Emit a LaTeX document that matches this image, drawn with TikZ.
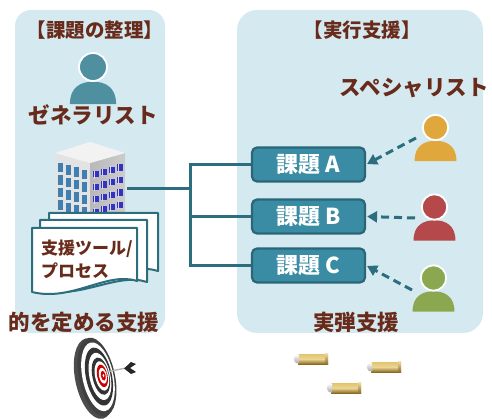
\documentclass[tikz,border=0pt]{standalone}
\usepackage{fontspec}
\newfontfamily\jp{Noto Sans CJK JP}
\usetikzlibrary{arrows.meta,calc}

\definecolor{panelblue}{HTML}{D5EAF0}
\definecolor{inkbrown}{HTML}{682A1A}
\definecolor{teal}{HTML}{2C6D7E}
\definecolor{taskfill}{HTML}{398CA3}
\definecolor{taskedge}{HTML}{2A6677}
\definecolor{genteal}{HTML}{4E8FA0}
\definecolor{spyellow}{HTML}{E0A83C}
\definecolor{spred}{HTML}{B5484A}
\definecolor{spgreen}{HTML}{8BA850}
\definecolor{brasslight}{HTML}{E2C46A}
\definecolor{brassdark}{HTML}{8C6A22}

% person icon: #1 name, #2 x, #3 y of head centre, #4 head radius, #5 colour
\newcommand\personicon[5]{%
  \begin{scope}[shift={(#2,#3)}, scale=#4]
    \fill[#5] (-1.65,2.65) .. controls (-1.65,1.45) and (-0.9,1.05) .. (0,1.05)
      .. controls (0.9,1.05) and (1.65,1.45) .. (1.65,2.65) -- cycle;
    \filldraw[fill=#5, draw=white, line width=1.8pt] (0,0) circle (1);
    \coordinate (#1) at (0,1.3);
  \end{scope}}

% one sheet of the document stack: left, top, right, right-bottom, left-bottom
\newcommand\docsheet[5]{%
  \filldraw[fill=white, draw=teal, line width=2pt, line join=round]
    (#1,#5) -- (#1,#2) -- (#3,#2) -- (#3,#4)
    .. controls ({#3-30},{#4-10}) and ({#1+40},{#5+10}) .. (#1,#5) -- cycle;}

% brass cartridge: left x, centre y
\newcommand\cartridge[2]{%
  \shade[top color=brasslight, bottom color=brassdark, middle color=brasslight!70!white]
    ({#1+6},{#2-5}) rectangle ({#1+36},{#2+5});
  \shade[top color=brasslight!60!white, bottom color=brassdark]
    ({#1+33},{#2-5.5}) rectangle ({#1+36},{#2+5.5});
  \shade[top color=white, bottom color=gray!70]
    ({#1+7},{#2-4.6}) .. controls (#1,{#2-4.6}) and (#1,{#2+4.6}) .. ({#1+7},{#2+4.6}) -- cycle;}

\begin{document}
\begin{tikzpicture}[x=1pt, y=-1pt,
  panel/.style={fill=panelblue},
  heading/.style={font=\jp\bfseries\fontsize{19.5}{22}\selectfont, text=inkbrown, inner sep=0pt},
  role/.style={font=\jp\bfseries\fontsize{21.5}{24}\selectfont, text=inkbrown, inner sep=0pt},
  doctext/.style={font=\jp\bfseries\fontsize{17}{23}\selectfont, text=inkbrown, inner sep=0pt, align=left},
  task/.style={rectangle, rounded corners=5pt, fill=taskfill, draw=taskedge, line width=2.2pt,
    minimum width=113pt, minimum height=34pt, inner sep=0pt,
    font=\jp\bfseries\fontsize{22}{24}\selectfont, text=white},
  bus/.style={draw=teal, line width=3pt},
  hint/.style={draw=teal, line width=3pt, dash pattern=on 8pt off 5pt,
    -{Triangle[length=10pt, width=11pt]}, shorten >=1pt}
]
\useasboundingbox (0,0) rectangle (492,419);

% two panels
\fill[panel, rounded corners=16pt] (15,10) rectangle (165,333);
\fill[panel, rounded corners=20pt] (237,10) rectangle (483,333);

% headings and captions
\node[heading] (head1) at (95,30) {【課題の整理】};
\node[heading] (head2) at (362,30) {【実行支援】};
\node[role] (gen) at (93,115) {ゼネラリスト};
\node[role] (spec) at (414,88) {スペシャリスト};
\node[role] (aim) at (84,322) {的を定める支援};
\node[role] (live) at (356,322) {実弾支援};

% generalist
\personicon{genp}{93}{67}{14}{genteal}

% office building
\fill[gray!22] (55,153) -- (90,163) -- (90,235) -- (55,225) -- cycle;
\shade[left color=gray!55, right color=gray!40] (90,163) -- (125,153) -- (125,225) -- (90,235) -- cycle;
\fill[gray!10] (90,142) -- (125,153) -- (90,163) -- (55,153) -- cycle;
\begin{scope}[shift={(55,153)}, x={(1pt,-0.2857pt)}, y={(0pt,-1pt)}]
  \foreach \u in {3,11,19,27}
    \foreach \v in {9,21.5,34,46.5,59}
      \fill[blue!45!cyan!60!black!75] (\u,\v) rectangle ({\u+5},{\v+8});
\end{scope}
\begin{scope}[shift={(90,163)}, x={(1pt,0.2857pt)}, y={(0pt,-1pt)}]
  \foreach \u in {3,11,19,27}
    \foreach \v in {9,21.5,34,46.5,59} {
      \fill[blue!70!black!80] (\u,\v) rectangle ({\u+6},{\v+8});
      \fill[white!85!blue] ({\u+1},\v) rectangle ({\u+2.2},{\v+8});
    }
\end{scope}
\coordinate (bldg) at (127,189);

% stack of tool documents
\docsheet{49}{213}{158}{271}{282}
\docsheet{40}{220}{147}{282}{290}
\docsheet{32}{228}{137}{281}{292}
\node[doctext, anchor=north west] (tools) at (41,240) {支援ツール/\\プロセス};

% dartboard
\begin{scope}[shift={(97,377)}, rotate=12]
  \fill[black!70] (-3,1) ellipse (19 and 41);
  \fill[black!75] (0,0) ellipse (18 and 40);
  \fill[white] (1,0) ellipse (15.5 and 35);
  \fill[black!80] (2,0) ellipse (13 and 29.5);
  \fill[white] (3,0) ellipse (10.5 and 24);
  \fill[black!80] (4,0) ellipse (8.5 and 19);
  \fill[white] (5,0) ellipse (6.8 and 15);
  \fill[red!80!black] (5.5,0) ellipse (5.2 and 11.5);
  \fill[white] (6,0) ellipse (3.8 and 8);
  \fill[red!80!black] (6.4,0) ellipse (2.4 and 5);
  \fill[white] (6.6,0) ellipse (0.9 and 1.8);
\end{scope}
\draw[gray!60, line width=1.3pt] (106,372) -- (126,368);
\fill[black!85] (124,368.5) -- (131,362) -- (136,364) -- (130,368) -- (136,372) -- (131,374) -- cycle;

% the three task boxes
\node[task] (taskA) at (308.5,164.5) {課題 A};
\node[task] (taskB) at (308.5,216.5) {課題 B};
\node[task] (taskC) at (308.5,265.5) {課題 C};

% bus from the generalist side to the tasks
\coordinate (busA) at (190,164.5);
\coordinate (busC) at (190,265.5);
\coordinate (busB) at (190,216.5);
\coordinate (busM) at (190,189);
\draw[bus, line cap=rect] (busA) -- (busC);
\draw[bus] (bldg) -- (busM);
\draw[bus] (busA) -- (taskA.west);
\draw[bus] (busB) -- (taskB.west);
\draw[bus] (busC) -- (taskC.west);

% specialists
\personicon{spA}{435.5}{127.5}{12.7}{spyellow}
\personicon{spB}{434.5}{207}{12.7}{spred}
\personicon{spC}{433.5}{278}{12.7}{spgreen}
\coordinate (fromA) at (416,138);
\coordinate (fromB) at (415,218);
\coordinate (fromC) at (412,290);
\draw[hint] (fromA) -- (taskA.east);
\draw[hint] (fromB) -- (taskB.east);
\draw[hint] (fromC) -- (taskC.east);

% cartridges
\cartridge{292}{359}
\cartridge{365}{367}
\cartridge{325}{388}
\end{tikzpicture}
\end{document}
